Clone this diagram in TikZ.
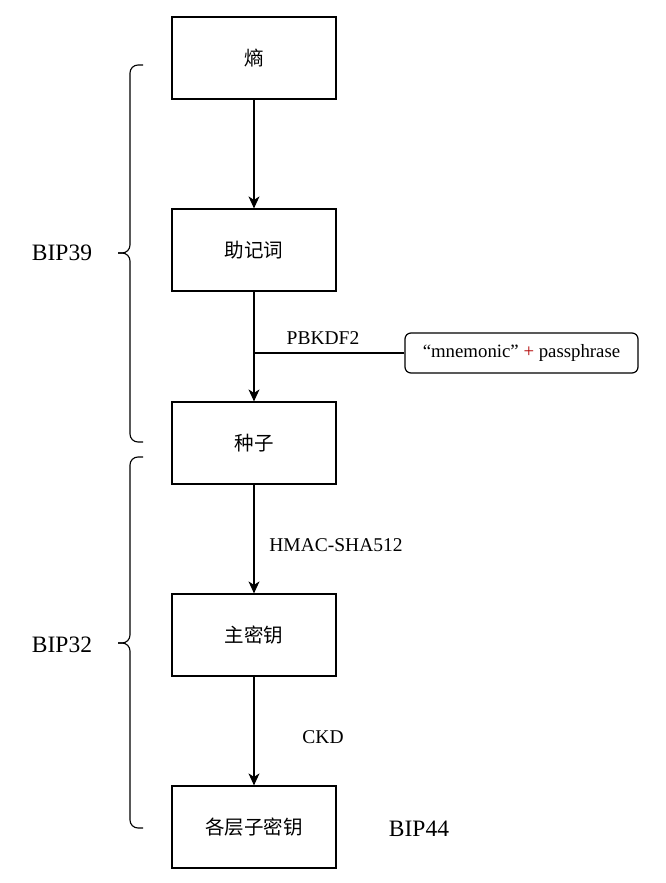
\documentclass[tikz,border=0pt]{standalone}
\usepackage{fontspec}
\setmainfont{Liberation Serif}
\newfontfamily\cjk{Noto Sans CJK SC}
\usetikzlibrary{arrows.meta,positioning}

\tikzset{
    stepbox/.style={draw, line width=1.2pt, minimum width=164pt, minimum height=82pt, inner sep=0pt, font=\cjk\fontsize{19.5}{23}\selectfont},
    passbox/.style={draw, line width=1.2pt, rounded corners=6pt, minimum width=233pt, minimum height=40pt, inner sep=0pt, font=\fontsize{18.8}{22}\selectfont},
    flow/.style={line width=1.3pt, -{Stealth[length=12pt, width=11pt, inset=3.5pt]}},
    feed/.style={line width=1.1pt},
    steplabel/.style={font=\fontsize{19.5}{23}\selectfont},
    biplabel/.style={font=\fontsize{23.5}{28}\selectfont},
    bipbrace/.style={line width=1.1pt, rounded corners=8pt},
}

\begin{document}
\begin{tikzpicture}[x=1pt, y=-1pt]
    \useasboundingbox (0,0) rectangle (665,883);

    \node[stepbox] (entropy) at (254,58) {熵};
    \node[stepbox] (mnemonic) at (254,250) {助记词};
    \node[stepbox] (seed) at (254,443) {种子};
    \node[stepbox] (master) at (254,635) {主密钥};
    \node[stepbox] (child) at (254,827) {各层子密钥};

    \node[passbox] (pass) at (521.5,353) {“mnemonic” \textcolor[HTML]{B00000}{+} passphrase};
    \coordinate (join) at (seed.north |- pass.west); % where the passphrase line meets

    \draw[flow] (entropy) -- (mnemonic);
    \draw[flow] (mnemonic) -- (seed);
    \draw[feed] (pass.west) -- (join);
    \draw[flow] (seed) -- (master);
    \draw[flow] (master) -- (child);

    \node[steplabel] (pbkdf) at (323,338) {PBKDF2};
    \node[steplabel] (hmac) at (336,545) {HMAC-SHA512};
    \node[steplabel] (ckd) at (323,737) {CKD};

    % curly brackets
    \draw[bipbrace] (143,65) -- (130,65) -- (130,253) -- (118,253);
    \draw[bipbrace] (118,253) -- (130,253) -- (130,442) -- (143,442);
    \draw[bipbrace] (143,457) -- (130,457) -- (130,643) -- (118,643);
    \draw[bipbrace] (118,643) -- (130,643) -- (130,828) -- (143,828);

    \node[biplabel] (bip39) at (62,253) {BIP39};
    \node[biplabel] (bip32) at (62,645) {BIP32};
    \node[biplabel] (bip44) at (419,829) {BIP44};
\end{tikzpicture}
\end{document}
